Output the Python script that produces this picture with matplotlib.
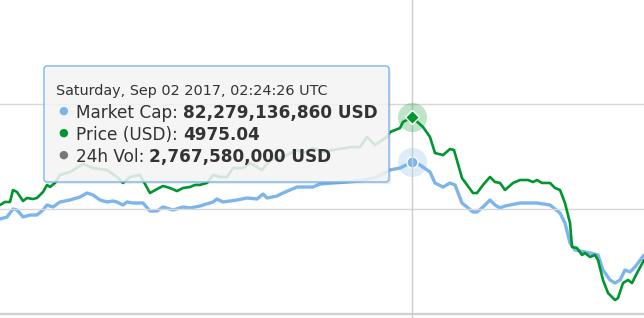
import matplotlib
matplotlib.use("Agg")
import matplotlib.pyplot as plt
from matplotlib.patches import FancyBboxPatch
from matplotlib.transforms import IdentityTransform
import numpy as np
import pandas as pd

# ---------------- data ----------------
hover_time = pd.Timestamp("2017-09-02 02:24:26")
hover_hour = 412                      # hours since the start of the visible window
window_hours = 644

price_hours = [0, 5, 10, 13, 17, 23, 27, 33, 37, 43, 47, 50, 55, 60, 70, 83, 93, 107, 117, 123,
               130, 140, 150, 157, 163, 170, 177, 183, 190, 195, 200, 207, 213, 220, 227, 233,
               243, 250, 262, 270, 283, 297, 303, 313, 323, 333, 345, 352, 360, 367, 375, 387,
               390, 400, 403, 412, 423, 430, 435, 443, 450, 454, 462, 473, 477, 483, 490, 495,
               500, 505, 513, 520, 528, 533, 537, 542, 550, 555, 560, 565, 570, 572, 577, 582,
               585, 590, 595, 598, 603, 608, 615, 618, 623, 628, 632, 637, 644]
price_usd = [4138, 4167, 4167, 4281, 4262, 4176, 4205, 4195, 4205, 4262, 4329, 4310, 4348, 4424,
             4452, 4529, 4490, 4471, 4405, 4348, 4405, 4424, 4252, 4290, 4319, 4300, 4271, 4300,
             4310, 4329, 4329, 4348, 4424, 4405, 4405, 4490, 4490, 4538, 4471, 4567, 4595, 4662,
             4633, 4681, 4643, 4662, 4681, 4690, 4690, 4786, 4710, 4786, 4833, 4871, 4929,
             4975.04, 4881, 4786, 4633, 4614, 4671, 4662, 4395, 4252, 4252, 4329, 4405, 4357,
             4348, 4281, 4348, 4376, 4376, 4357, 4376, 4348, 4348, 4300, 4281, 4157, 3967, 3738,
             3729, 3662, 3681, 3643, 3662, 3614, 3424, 3300, 3233, 3252, 3395, 3424, 3395, 3490,
             3614]

cap_hours = [0, 7, 13, 17, 23, 30, 37, 43, 47, 53, 60, 70, 80, 87, 93, 100, 107, 113, 117, 123,
             127, 133, 143, 150, 157, 163, 173, 183, 190, 200, 213, 217, 223, 237, 247, 257, 263,
             267, 277, 283, 290, 297, 307, 313, 320, 333, 347, 360, 377, 390, 400, 412, 420, 430,
             435, 443, 450, 455, 462, 473, 477, 483, 490, 495, 500, 505, 520, 537, 550, 560, 565,
             570, 575, 590, 598, 603, 610, 615, 620, 625, 630, 635, 644]
market_cap_bn = [68.03, 68.53, 70.53, 70.28, 68.53, 69.03, 69.03, 70.28, 71.53, 71.03, 72.28,
                 72.78, 73.53, 74.53, 74.03, 72.78, 72.28, 72.53, 72.28, 71.53, 72.28, 72.03,
                 72.03, 70.03, 70.03, 71.03, 70.28, 71.03, 70.78, 71.28, 72.28, 73.03, 72.28,
                 72.78, 73.28, 73.03, 74.28, 73.28, 73.78, 74.53, 75.28, 76.03, 76.03, 76.03,
                 76.78, 77.03, 77.28, 77.53, 78.53, 80.28, 80.78, 82.279136860, 81.53, 79.78,
                 77.03, 76.03, 77.03, 76.53, 72.03, 69.78, 69.78, 71.03, 72.78, 71.53, 70.78,
                 71.28, 72.03, 72.03, 71.53, 69.53, 67.03, 62.03, 60.28, 59.53, 59.03, 55.28,
                 52.78, 52.03, 52.78, 55.28, 54.78, 56.03, 59.03]

price_grid = [5100, 4100, 3100]
price_range = (3061.9, 6090.5)
cap_range = (43.28, 122.78)

header = "Saturday, Sep 02 2017, 02:24:26 UTC"
row_labels = ["Market Cap:", "Price (USD):", "24h Vol:"]
row_values = ["82,279,136,860 USD", "4975.04", "2,767,580,000 USD"]
row_colors = ["#7cb5ec", "#00962f", "#777777"]

# ---------------- figure ----------------
W, H = 644, 318
fig = plt.figure(figsize=(W / 100, H / 100), dpi=100)
fig.patch.set_facecolor("white")

start = hover_time - pd.Timedelta(hours=hover_hour)
t_price = start + pd.to_timedelta(price_hours, unit="h")
t_cap = start + pd.to_timedelta(cap_hours, unit="h")

ax = fig.add_axes([0, 0, 1, 1])          # market cap axis (below)
ax2 = ax.twinx()                          # price axis (on top)
for a in (ax, ax2):
    a.set_xlim(start, start + pd.Timedelta(hours=window_hours))
    for s in a.spines.values():
        s.set_visible(False)
    a.set_xticks([])
    a.set_yticks([])
    a.patch.set_visible(False)
ax.set_ylim(*cap_range)
ax2.set_ylim(*price_range)

# grid lines (price axis)
for i, g in enumerate(price_grid):
    ax.axhline(np.nan)  # keep autoscale off
    ax2.axhline(g, color="#d8d8d8" if i < 2 else "#d0d0d0", lw=1.0 if i < 2 else 1.6, zorder=0)

# crosshair
ax2.axvline(hover_time, color="#cccccc", lw=1.0, zorder=1)

# series
ax.plot(t_cap, market_cap_bn, color="#7cb5ec", lw=2.4, solid_joinstyle="round",
        solid_capstyle="round", zorder=2)
ax2.plot(t_price, price_usd, color="#00962f", lw=1.9, solid_joinstyle="round",
         solid_capstyle="round", zorder=3)

# hover markers with halos
hi_cap = market_cap_bn[cap_hours.index(hover_hour)]
hi_price = price_usd[price_hours.index(hover_hour)]
ax.plot([hover_time], [hi_cap], "o", ms=21, color="#7cb5ec", alpha=0.25, mew=0, zorder=4)
ax.plot([hover_time], [hi_cap], "o", ms=8, color="#7cb5ec", mec="white", mew=1.0, zorder=5)
ax2.plot([hover_time], [hi_price], "o", ms=21, color="#00962f", alpha=0.25, mew=0, zorder=4)
ax2.plot([hover_time], [hi_price], "D", ms=7, color="#00962f", mec="white", mew=1.0, zorder=5)

# ---------------- tooltip ----------------
ident = IdentityTransform()


def P(x, y):
    return x, H - y


bx0, by0, bx1, by1 = 44, 66, 389, 182
shadow = FancyBboxPatch(P(bx0 + 2, by1 + 2), bx1 - bx0, by1 - by0,
                        boxstyle="round,pad=0,rounding_size=3", transform=ident,
                        facecolor="black", alpha=0.08, edgecolor="none", zorder=10)
box = FancyBboxPatch(P(bx0, by1), bx1 - bx0, by1 - by0,
                     boxstyle="round,pad=0,rounding_size=3", transform=ident,
                     facecolor=(0.969, 0.969, 0.969, 0.85), edgecolor="#7cb5ec",
                     linewidth=1.0, zorder=11)
fig.patches.extend([shadow, box])

fig.text(*P(56, 95), header, transform=ident, fontsize=10.4, color="#333333",
         family="DejaVu Sans", va="baseline", ha="left", zorder=12)

renderer = fig.canvas.get_renderer()
baselines = [118, 140, 162]
for lab, val, col, yb in zip(row_labels, row_values, row_colors, baselines):
    fig.text(*P(63, yb - 7), "\u25CF", transform=ident, fontsize=8, color=col,
             family="DejaVu Sans", va="center", ha="center", zorder=12)
    t = fig.text(*P(76, yb), lab, transform=ident, fontsize=12.2, color="#333333",
                 family="DejaVu Sans", va="baseline", ha="left", zorder=12)
    bb = t.get_window_extent(renderer=renderer)
    fig.text(bb.x1 + 5, H - yb, val, transform=ident, fontsize=12.2, color="#333333",
             family="DejaVu Sans", fontweight="bold", va="baseline", ha="left", zorder=12)

fig.savefig("out.png", dpi=100, facecolor="white")
